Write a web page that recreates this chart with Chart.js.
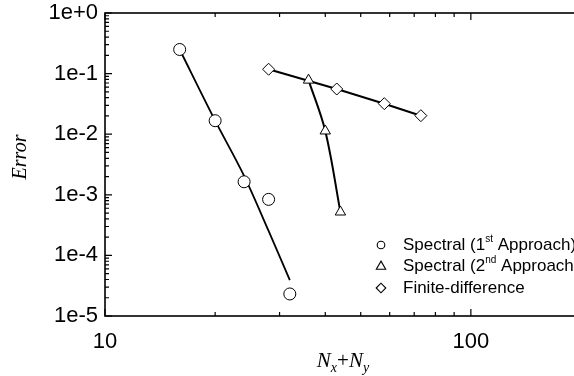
<!DOCTYPE html>
<html>
<head>
<meta charset="utf-8">
<script src="https://cdn.jsdelivr.net/npm/chart.js@4/dist/chart.umd.min.js"></script>
<style>
  html, body { margin: 0; padding: 0; background: #fff; overflow: hidden; }
  #wrap { width: 590px; height: 376px; position: relative; }
</style>
</head>
<body>
<div id="wrap"><canvas id="errChart"></canvas></div>
<script>
// data
const s1X = [16, 20, 24, 28, 32];
const s1Y = [0.25, 0.0167, 0.00164, 0.00084, 0.0000231];
// fitted curve through the 1st approach points
const fit1X = [16, 20, 24, 28, 32];
const fit1Y = [0.25, 0.0167, 0.00205, 0.000253, 0.000039];
const s2X = [36, 40, 44];
const s2Y = [0.078, 0.0113, 0.00052];
const fdX = [28, 43, 58, 73];
const fdY = [0.118, 0.0557, 0.0319, 0.0202];

const xTickValues = [10, 100];
const yTickValues = [1, 0.1, 0.01, 0.001, 0.0001, 0.00001];
const yTickLabels = ["1e+0", "1e-1", "1e-2", "1e-3", "1e-4", "1e-5"];

const legendItems = [
  { style: "circle", r: 3.8, text: "Spectral (1", sup: "st", rest: " Approach)" },
  { style: "triangle", r: 5.4, text: "Spectral (2", sup: "nd", rest: " Approach)" },
  { style: "rectRot", r: 4.8, text: "Finite-difference", sup: "", rest: "" }
];

const pts = (xs, ys) => xs.map((x, i) => ({ x: x, y: ys[i] }));
const SANS = "'Liberation Sans', Arial, Helvetica, sans-serif";
const SERIF = "'Liberation Serif', 'Times New Roman', serif";

/* ---- frame, inward ticks, titles, legend ---- */
const decorPlugin = {
  id: "decor",
  afterDraw(chart) {
    const { ctx, chartArea: a, scales } = chart;
    const xs = scales.x, ys = scales.y;
    ctx.save();
    ctx.strokeStyle = "#000";
    ctx.lineWidth = 1.6;
    ctx.strokeRect(a.left, a.top, a.right - a.left, a.bottom - a.top);

    ctx.lineWidth = 1.2;
    ctx.beginPath();
    // x ticks (bottom + top)
    for (let d = 10; d <= 100; d *= 10) {
      for (let m = 1; m <= 9; m++) {
        const v = d * m;
        if (v > xs.max) break;
        const px = xs.getPixelForValue(v);
        const len = m === 1 ? 7 : 4;
        ctx.moveTo(px, a.bottom); ctx.lineTo(px, a.bottom - len);
        ctx.moveTo(px, a.top); ctx.lineTo(px, a.top + len);
      }
    }
    // y ticks (left + right)
    for (let e = -5; e <= 0; e++) {
      for (let m = 1; m <= 9; m++) {
        if (e === 0 && m > 1) break;
        const v = m * Math.pow(10, e);
        const py = ys.getPixelForValue(v);
        const len = m === 1 ? 7 : 4;
        ctx.moveTo(a.left, py); ctx.lineTo(a.left + len, py);
        ctx.moveTo(a.right, py); ctx.lineTo(a.right - len, py);
      }
    }
    ctx.stroke();

    // y title
    ctx.fillStyle = "#000";
    ctx.save();
    ctx.translate(21, 157);
    ctx.rotate(-Math.PI / 2);
    ctx.font = "italic 20px " + SERIF;
    ctx.textAlign = "center";
    ctx.textBaseline = "middle";
    ctx.fillText("Error", 0, 0);
    ctx.restore();

    // x title  N_x + N_y
    const parts = [
      { t: "N", f: "italic 21px " + SERIF, dy: 0 },
      { t: "x", f: "italic 14px " + SERIF, dy: 5 },
      { t: "+", f: "21px " + SERIF, dy: 0 },
      { t: "N", f: "italic 21px " + SERIF, dy: 0 },
      { t: "y", f: "italic 14px " + SERIF, dy: 5 }
    ];
    let total = 0;
    parts.forEach(p => { ctx.font = p.f; p.w = ctx.measureText(p.t).width; total += p.w; });
    let cx = 343 - total / 2;
    ctx.textAlign = "left";
    ctx.textBaseline = "alphabetic";
    parts.forEach(p => { ctx.font = p.f; ctx.fillText(p.t, cx, 367 + p.dy); cx += p.w; });

    // legend
    const rowY = [245, 266.5, 288];
    legendItems.forEach((it, i) => {
      ctx.fillStyle = "#fff";
      ctx.strokeStyle = "#000";
      ctx.lineWidth = 1.1;
      Chart.helpers.drawPoint(ctx, { pointStyle: it.style, radius: it.r, rotation: 0, borderWidth: 1.1 }, 381, rowY[i]);
      ctx.fillStyle = "#000";
      ctx.textBaseline = "middle";
      ctx.font = "17px " + SANS;
      let tx = 403;
      ctx.fillText(it.text, tx, rowY[i]);
      tx += ctx.measureText(it.text).width;
      if (it.sup) {
        ctx.font = "10px " + SANS;
        ctx.fillText(it.sup, tx, rowY[i] - 6);
        tx += ctx.measureText(it.sup).width;
        ctx.font = "17px " + SANS;
        ctx.fillText(it.rest, tx, rowY[i]);
      }
    });
    ctx.restore();
  }
};

const marker = { borderColor: "#000", backgroundColor: "#fff", pointBorderWidth: 1, pointRadius: 6, pointHoverRadius: 6 };

new Chart(document.getElementById("errChart"), {
  type: "scatter",
  data: {
    datasets: [
      Object.assign({ label: "Spectral (1st Approach)", data: pts(s1X, s1Y), pointStyle: "circle", showLine: false }, marker),
      Object.assign({ label: "Spectral (2nd Approach)", data: pts(s2X, s2Y), pointStyle: "triangle", showLine: true, borderWidth: 2, tension: 0.35 }, marker),
      Object.assign({ label: "Finite-difference", data: pts(fdX, fdY), pointStyle: "rectRot", showLine: true, borderWidth: 2, tension: 0 }, marker),
      { label: "fit", data: pts(fit1X, fit1Y), showLine: true, pointRadius: 0, borderColor: "#000", borderWidth: 1.8, cubicInterpolationMode: "monotone" }
    ]
  },
  options: {
    responsive: true,
    maintainAspectRatio: false,
    animation: false,
    devicePixelRatio: 1,
    layout: { padding: { left: 0, top: 13, right: 9, bottom: 0 } },
    plugins: { legend: { display: false }, tooltip: { enabled: false } },
    scales: {
      x: {
        type: "logarithmic",
        min: 10,
        max: 200,
        grid: { display: false, drawTicks: true, tickLength: 15 },
        border: { display: false },
        ticks: {
          color: "#000",
          padding: 0,
          maxRotation: 0,
          autoSkip: false,
          font: { size: 22, family: SANS, lineHeight: 1 },
          callback: (v) => String(v)
        },
        afterBuildTicks: (s) => { s.ticks = xTickValues.map(v => ({ value: v })); },
        afterFit: (s) => { s.height = 60; }
      },
      y: {
        type: "logarithmic",
        min: 1e-5,
        max: 1,
        grid: { display: false, drawTicks: true, tickLength: 7 },
        border: { display: false },
        ticks: {
          color: "#000",
          padding: 0,
          autoSkip: false,
          font: { size: 22, family: SANS, lineHeight: 1 },
          callback: (v) => yTickLabels[yTickValues.indexOf(v)]
        },
        afterBuildTicks: (s) => { s.ticks = yTickValues.map(v => ({ value: v })); },
        afterFit: (s) => { s.width = 105; }
      }
    }
  },
  plugins: [decorPlugin]
});
</script>
</body>
</html>
